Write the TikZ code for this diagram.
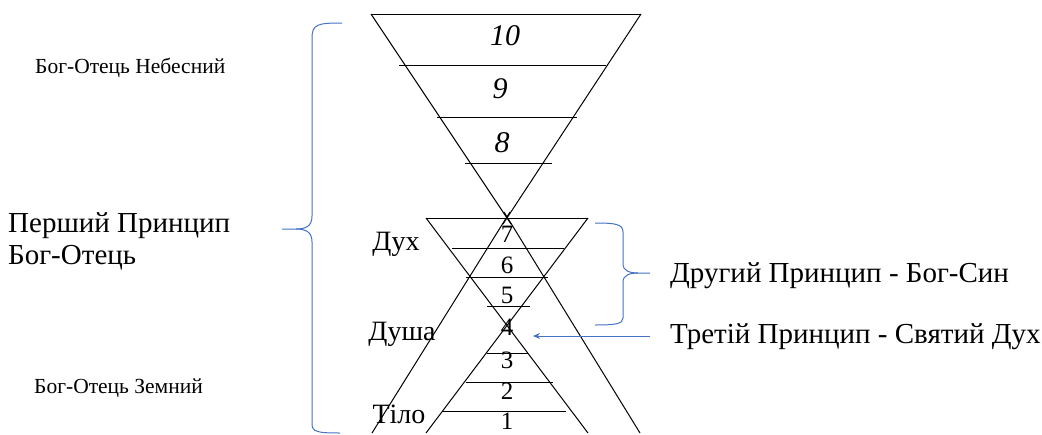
\documentclass[tikz,border=0pt]{standalone}
\usepackage{fontspec}
\setmainfont{Liberation Serif}
\usetikzlibrary{arrows.meta}
\definecolor{braceblue}{HTML}{4472C4}
\begin{document}
\begin{tikzpicture}[x=1pt,y=-1pt,
  edge/.style={line width=1pt,black},
  bluebrace/.style={line width=1pt,braceblue},
  numlbl/.style={inner sep=0pt,font=\fontsize{25}{25}\selectfont},
  bignum/.style={inner sep=0pt,font=\fontsize{30}{30}\selectfont\itshape},
  sidelbl/.style={inner sep=0pt,font=\fontsize{28}{28}\selectfont},
  smalllbl/.style={inner sep=0pt,anchor=west,font=\fontsize{21.5}{21.5}\selectfont},
  biglbl/.style={inner sep=0pt,anchor=west,font=\fontsize{29}{29}\selectfont}]
\useasboundingbox (0,0) rectangle (1042,434);
% top inverted triangle
\draw[edge] (371,14) -- (641,14);
\draw[edge] (371,14) -- (511,224);
\draw[edge] (641,14) -- (503,224);
\draw[edge] (399,65) -- (606,65);
\draw[edge] (437,117) -- (577,117);
\draw[edge] (465,163) -- (552,163);
% big upright triangle
\draw[edge] (372,433) -- (510,212);
\draw[edge] (640,433) -- (504,212);
% middle crossing lines
\draw[edge] (426,218) -- (588,433);
\draw[edge] (588,218) -- (426,433);
% horizontals
\draw[edge] (426,218) -- (588,218);
\draw[edge] (452,248) -- (564,248);
\draw[edge] (466,277) -- (548,277);
\draw[edge] (487,306) -- (530,306);
\draw[edge] (487,353) -- (528,353);
\draw[edge] (466,382) -- (553,382);
\draw[edge] (442,411) -- (566,411);
% numbers
\node[bignum] (n10) at (505,36) {10};
\node[bignum] (n9) at (500,89) {9};
\node[bignum] (n8) at (502,143) {8};
\node[numlbl] (n7) at (507,234) {7};
\node[numlbl] (n6) at (507,265) {6};
\node[numlbl] (n5) at (507,295) {5};
\node[numlbl] (n4) at (507,327) {4};
\node[numlbl] (n3) at (507,360) {3};
\node[numlbl] (n2) at (507,391) {2};
\node[numlbl] (n1) at (507,421) {1};
% side labels
\node[sidelbl] (dukh) at (396,244) {Дух};
\node[sidelbl] (dusha) at (402,334) {Душа};
\node[sidelbl] (tilo) at (399,414) {Тіло};
% left labels
\node[smalllbl] (neb) at (35,68) {Бог-Отець Небесний};
\node[biglbl] (p1a) at (8,226) {Перший Принцип};
\node[biglbl] (p1b) at (8,258) {Бог-Отець};
\node[smalllbl] (zem) at (34,388) {Бог-Отець Земний};
% right labels
\node[biglbl] (p2) at (670,276) {Другий Принцип - Бог-Син};
\node[biglbl] (p3) at (670,337) {Третій Принцип - Святий Дух};
% big brace
\draw[bluebrace] (342,23) .. controls (318,23) and (312,24) .. (312,38)
  -- (312,216) .. controls (312,226) and (306,229) .. (296,229) -- (282,229);
\draw[bluebrace] (296,229) .. controls (306,229) and (312,232) .. (312,242)
  -- (312,424) .. controls (312,432) and (318,433) .. (340,433);
% small brace
\draw[bluebrace] (595,223) .. controls (615,223) and (623,224) .. (623,232)
  -- (623,264) .. controls (623,271) and (630,273) .. (638,273) -- (650,273);
\draw[bluebrace] (638,273) .. controls (630,273) and (623,275) .. (623,282)
  -- (623,318) .. controls (623,324) and (615,325) .. (595,325);
% arrow
\coordinate (arrs) at (650,336);
\coordinate (arre) at (533,336);
\draw[bluebrace,-{Stealth[length=7pt,width=6pt]}] (arrs) -- (arre);
\end{tikzpicture}
\end{document}
